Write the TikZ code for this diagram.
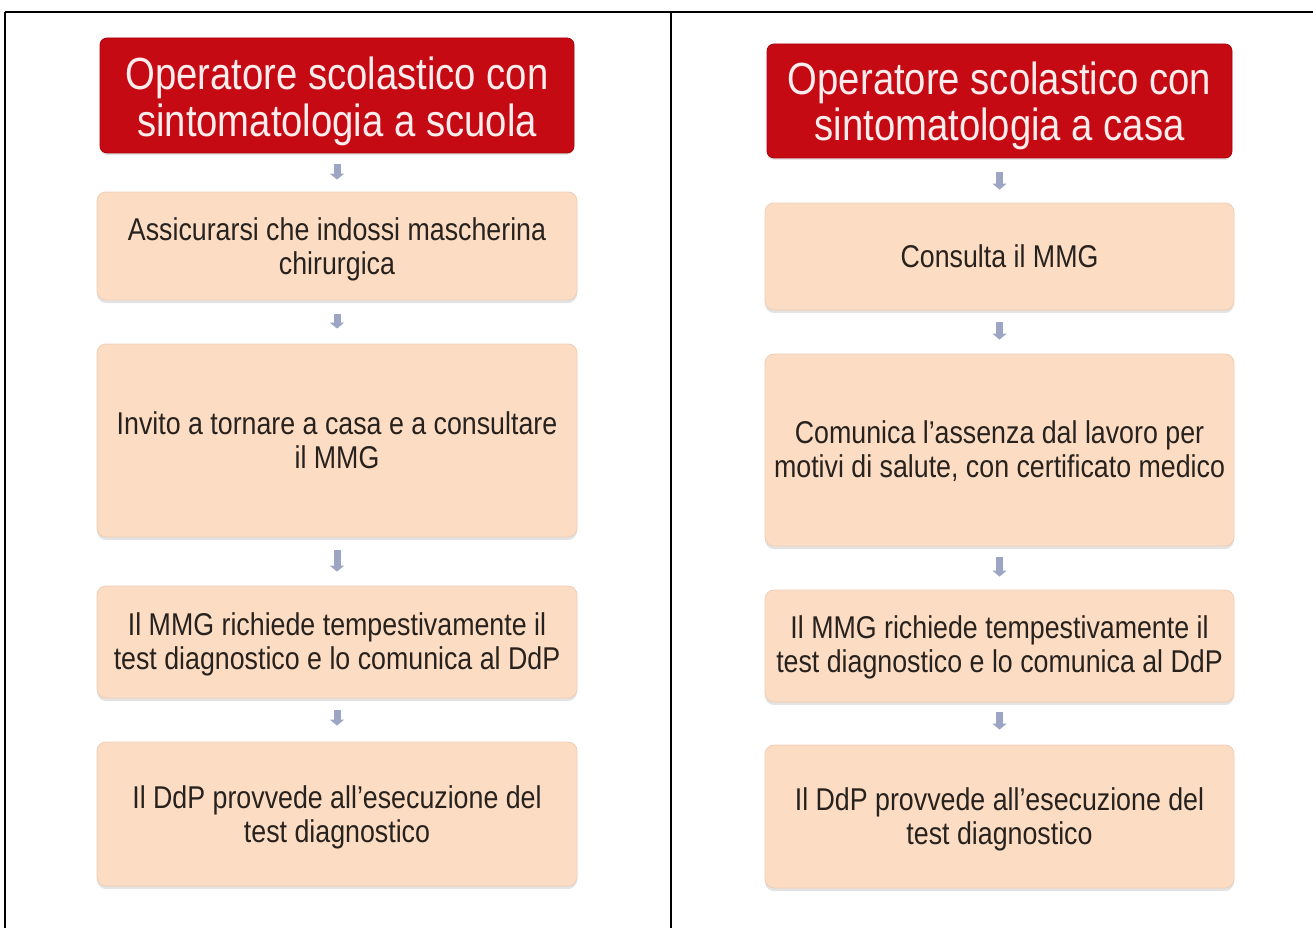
\documentclass[tikz,border=0pt]{standalone}
\usepackage{fontspec}
\setmainfont[FakeStretch=0.85]{Liberation Sans}
\usetikzlibrary{arrows.meta,shadows}
\definecolor{titlered}{RGB}{198,10,20}
\definecolor{titleedge}{RGB}{170,0,10}
\definecolor{peach}{RGB}{252,221,196}
\definecolor{peachedge}{RGB}{238,205,182}
\definecolor{arrowgray}{RGB}{156,165,196}
\definecolor{titletext}{RGB}{255,236,236}
\definecolor{bodytext}{RGB}{40,34,30}
\newcommand\shiftedlines[2]{\raisebox{#1}[\height][\depth]{\begin{tabular}{@{}c@{}}#2\end{tabular}}}
\tikzset{
  titlebox/.style={draw=titleedge, line width=0.8pt, fill=titlered, rounded corners=7pt,
    text=titletext, align=center, inner sep=0pt,
    font=\fontsize{45}{46}\selectfont,
    drop shadow={shadow xshift=0pt, shadow yshift=-2pt, opacity=0.2, fill=gray}},
  stepbox/.style={draw=peachedge, line width=0.8pt, fill=peach, rounded corners=9pt,
    text=bodytext, align=center, inner sep=0pt,
    font=\fontsize{31.5}{34}\selectfont,
    drop shadow={shadow xshift=0pt, shadow yshift=-3pt, opacity=0.22, fill=gray}},
  flowarrow/.style={draw=arrowgray, line width=7pt,
    -{Triangle[width=14pt,length=6pt]}},
  frameline/.style={draw=black, line width=1.3pt}
}
\begin{document}
\begin{tikzpicture}[x=1pt,y=-1pt]
\useasboundingbox (0,0) rectangle (1313,928);
% table frame
\coordinate (ftl) at (5,12);
\coordinate (ftr) at (1313,12);
\coordinate (fbl) at (5,928);
\coordinate (ftm) at (671,12);
\coordinate (fbm) at (671,928);
\draw[frameline] (ftl) -- (ftr);
\draw[frameline] (ftl) -- (fbl);
\draw[frameline] (ftm) -- (fbm);

% left column
\node[titlebox, minimum width=474pt, minimum height=115pt] (l0) at (337,95.5)
  {\shiftedlines{-8pt}{Operatore scolastico con\\sintomatologia a scuola}};
\node[stepbox, minimum width=480pt, minimum height=108pt] (l1) at (337,246)
  {\shiftedlines{-5pt}{Assicurarsi che indossi mascherina\\chirurgica}};
\node[stepbox, minimum width=480pt, minimum height=193pt] (l2) at (337,440.5)
  {\shiftedlines{-4pt}{Invito a tornare a casa e a consultare\\il MMG}};
\node[stepbox, minimum width=480pt, minimum height=112pt] (l3) at (337,642)
  {\shiftedlines{-4pt}{Il MMG richiede tempestivamente il\\test diagnostico e lo comunica al DdP}};
\node[stepbox, minimum width=480pt, minimum height=144pt] (l4) at (337,814)
  {\shiftedlines{-5pt}{Il DdP provvede all’esecuzione del\\test diagnostico}};

\draw[flowarrow, shorten <=11pt, shorten >=12pt] (l0) -- (l1);
\draw[flowarrow, shorten <=14pt, shorten >=15pt] (l1) -- (l2);
\draw[flowarrow, shorten <=13pt, shorten >=14pt] (l2) -- (l3);
\draw[flowarrow, shorten <=12pt, shorten >=16pt] (l3) -- (l4);

% right column
\node[titlebox, minimum width=465pt, minimum height=114pt] (r0) at (999.5,101)
  {\shiftedlines{-7pt}{Operatore scolastico con\\sintomatologia a casa}};
\node[stepbox, minimum width=469pt, minimum height=107pt] (r1) at (999.5,256.5)
  {Consulta il MMG};
\node[stepbox, minimum width=469pt, minimum height=192pt] (r2) at (999.5,450)
  {\shiftedlines{-4pt}{Comunica l’assenza dal lavoro per\\motivi di salute, con certificato medico}};
\node[stepbox, minimum width=469pt, minimum height=112pt] (r3) at (999.5,646)
  {\shiftedlines{-3pt}{Il MMG richiede tempestivamente il\\test diagnostico e lo comunica al DdP}};
\node[stepbox, minimum width=469pt, minimum height=143pt] (r4) at (999.5,816.5)
  {\shiftedlines{-4pt}{Il DdP provvede all’esecuzione del\\test diagnostico}};

\draw[flowarrow, shorten <=14pt, shorten >=13pt] (r0) -- (r1);
\draw[flowarrow, shorten <=12pt, shorten >=14pt] (r1) -- (r2);
\draw[flowarrow, shorten <=11pt, shorten >=13pt] (r2) -- (r3);
\draw[flowarrow, shorten <=10pt, shorten >=15pt] (r3) -- (r4);
\end{tikzpicture}
\end{document}
